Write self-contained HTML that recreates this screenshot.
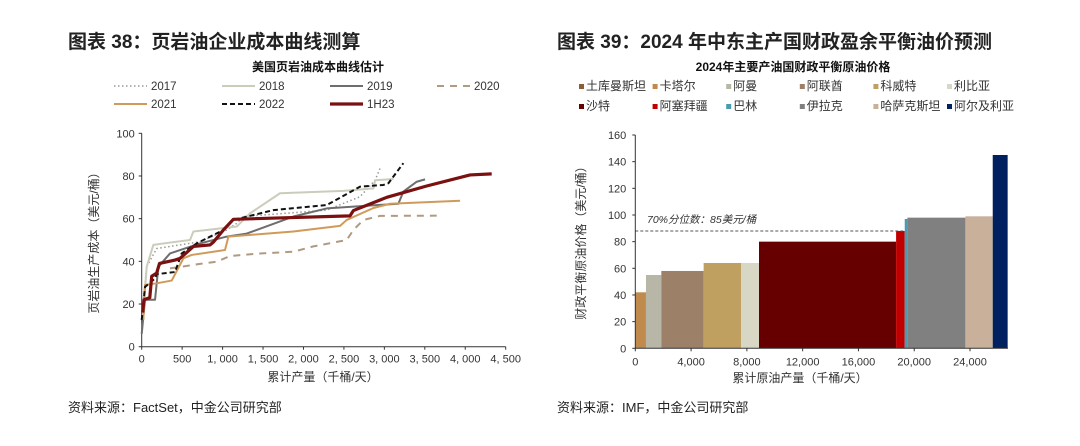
<!DOCTYPE html>
<html><head><meta charset="utf-8"><style>
body{margin:0;background:#fff;width:1080px;height:441px;overflow:hidden;font-family:"Liberation Sans","Noto Sans CJK SC",sans-serif;}
svg text{font-family:"Liberation Sans","Noto Sans CJK SC",sans-serif;}
</style></head><body>
<svg width="1080" height="441">
<text x="68" y="48" font-size="19" font-weight="bold" fill="#222">图表 38：页岩油企业成本曲线测算</text>
<text x="557" y="48" font-size="19" font-weight="bold" fill="#222">图表 39：2024 年中东主产国财政盈余平衡油价预测</text>
<text x="318" y="71" font-size="12" font-weight="bold" text-anchor="middle" fill="#111">美国页岩油成本曲线估计</text>
<text x="793" y="71" font-size="12" font-weight="bold" text-anchor="middle" fill="#111">2024年主要产油国财政平衡原油价格</text>
<text x="68" y="412" font-size="13" fill="#222">资料来源：FactSet，中金公司研究部</text>
<text x="557" y="412" font-size="13" fill="#222">资料来源：IMF，中金公司研究部</text>
<g id="left"></g>
<g id="right"></g>
</svg>
<script>
// ---- Left chart data ----
const leftYTicks=[0,20,40,60,80,100];
const leftXTicks=[0,500,1000,1500,2000,2500,3000,3500,4000,4500];
const leftXTickLabels=["0","500","1, 000","1, 500","2, 000","2, 500","3, 000","3, 500","4, 000","4, 500"];
const seriesNames=["2017","2018","2019","2020","2021","2022","1H23"];
const s2017x=[12,62,185,721,1051,1175,1257,2288,2700,2885,2947];
const s2017y=[19,37.5,46,49.2,54.7,57.8,61,64,70.3,78,83.6];
const s2018x=[12,62,144,350,598,639,804,1175,1339,1710,2493,2865,2885,3112];
const s2018y=[12.5,37.5,47.7,48.8,50,54,54.7,56.3,62.5,71.9,73,74.2,78,78.6];
const s2019x=[0,41,165,206,350,721,1051,1298,1875,2288,3173,3235,3400,3503];
const s2019y=[6,22,22,37.5,43.7,48.4,51.6,53,61,64.8,67,72.7,77.3,78.4];
const s2020x=[350,721,927,1092,1463,1875,2122,2535,2617,2741,2947,3647];
const s2020y=[36.7,38.8,39.8,42.5,43.7,44.5,47,50,54.7,59.4,61.3,61.4];
const s2021x=[20,41,185,371,515,618,1030,1072,1875,2452,2535,2865,3070,3936];
const s2021y=[12.5,29,29.7,31,41.4,43,45.3,51.6,54,56.6,59.4,65,67,68.4];
const s2022x=[0,41,165,185,412,494,680,1010,1133,1628,2288,2700,2988,3050,3235];
const s2022y=[12.5,28,32,34,35,43.7,48.4,54.7,59.4,64,66.4,75,75.8,76.6,86];
const s1H23x=[12,28,100,124,185,220,412,474,640,845,886,1010,1133,2575,2617,3030,3523,4060,4327];
const s1H23y=[16,22,23,33,34.5,39,40.6,41.4,47,47.7,49,54.7,59.7,61.3,63.8,70,75.3,80.5,81];
// ---- Right chart data ----
const countries=["卡塔尔","阿曼","阿联酋","科威特","利比亚","沙特","阿塞拜疆","巴林","伊拉克","哈萨克斯坦","阿尔及利亚"];
const barStart=[0,765,1865,4900,7580,8870,18700,19320,19510,23670,25630];
const barEnd=[765,1865,4900,7580,8870,18700,19320,19510,23670,25630,26700];
const barPrice=[42,55,58,64,64,80,88,97,98,99,145];
const rightYTicks=[0,20,40,60,80,100,120,140,160];
const rightXTicks=[0,4000,8000,12000,16000,20000,24000];
const rightXTickLabels=["0","4,000","8,000","12,000","16,000","20,000","24,000"];
const percentile70=88;

const NS="http://www.w3.org/2000/svg";
function mk(tag,attrs,parent,txt){const e=document.createElementNS(NS,tag);for(const k in attrs)e.setAttribute(k,attrs[k]);if(txt!==undefined)e.textContent=txt;parent.appendChild(e);return e;}

// Left
const L=document.getElementById('left');
const lx=v=>141.7+v*(505.7-141.7)/4500, ly=v=>346.7-v*(346.7-133.3)/100;
let e=mk('line',{x1:lx(0),y1:ly(0),x2:lx(0),y2:ly(100),stroke:'#333','stroke-width':1},L);

e=mk('line',{x1:lx(0),y1:ly(0),x2:lx(4500),y2:ly(0),stroke:'#333','stroke-width':1},L);

leftYTicks.forEach(t=>{mk('line',{x1:lx(0)-3,y1:ly(t),x2:lx(0),y2:ly(t),stroke:'#333'},L);
 e=mk('text',{x:lx(0)-7,y:ly(t)+4,'font-size':11,'text-anchor':'end',fill:'#333'},L,t);
 });
leftXTicks.forEach((t,i)=>{mk('line',{x1:lx(t),y1:ly(0),x2:lx(t),y2:ly(0)+3,stroke:'#333'},L);
 e=mk('text',{x:lx(t),y:ly(0)+16,'font-size':11,'text-anchor':'middle',fill:'#333'},L,leftXTickLabels[i]);
 });
e=mk('text',{x:323,y:381,'font-size':12,'text-anchor':'middle',fill:'#333'},L,'累计产量（千桶/天）');

e=mk('text',{x:0,y:0,'font-size':12,'text-anchor':'middle',fill:'#333',transform:'translate(98,240) rotate(-90)'},L,'页岩油生产成本（美元/桶）');

const styles=[{c:'#999',w:1.5,d:'1.5 2.5'},{c:'#ccccbb',w:2,d:''},{c:'#6e6e6e',w:2,d:''},{c:'#b09a82',w:2,d:'7 6'},{c:'#d09a5a',w:2,d:''},{c:'#111',w:2,d:'5 3'},{c:'#7a1010',w:3.2,d:''}];
const xs=[s2017x,s2018x,s2019x,s2020x,s2021x,s2022x,s1H23x], ys=[s2017y,s2018y,s2019y,s2020y,s2021y,s2022y,s1H23y];
xs.forEach((X,i)=>{const pts=X.map((v,j)=>lx(v)+','+ly(ys[i][j])).join(' ');
 e=mk('polyline',{points:pts,fill:'none',stroke:styles[i].c,'stroke-width':styles[i].w,'stroke-dasharray':styles[i].d,'stroke-linejoin':'round'},L);
 });
const legPos=[[114,86],[222,86],[330,86],[437,86],[114,104],[222,104],[330,104]];
seriesNames.forEach((n,i)=>{const [x,y]=legPos[i];
 e=mk('line',{x1:x,y1:y,x2:x+33,y2:y,stroke:styles[i].c,'stroke-width':styles[i].w,'stroke-dasharray':styles[i].d},L);
 
 e=mk('text',{x:x+37,y:y+4,'font-size':11.5,fill:'#333'},L,n);
 });

// Right
const R=document.getElementById('right');
const rx=v=>635.3+v*(970-635.3)/24000, ry=v=>348.3-v*(348.3-135)/160;
const colors=['#c08a4c','#b8b6a6','#9c8068','#c0a060','#d8d6c4','#660000','#c00000','#4a9ab0','#808080','#c8b09a','#002060'];
barPrice.forEach((p,i)=>{e=mk('rect',{x:rx(barStart[i]),y:ry(p),width:rx(barEnd[i])-rx(barStart[i]),height:ry(0)-ry(p),fill:colors[i]},R);
 });
e=mk('line',{x1:rx(0),y1:ry(percentile70),x2:rx(19320),y2:ry(percentile70),stroke:'#555','stroke-dasharray':'3 2','stroke-width':1},R);

e=mk('text',{x:647,y:223,'font-size':10.5,'font-style':'italic',fill:'#333'},R,'70%分位数：85美元/桶');

e=mk('line',{x1:rx(0),y1:ry(0),x2:rx(0),y2:ry(160),stroke:'#333'},R);

e=mk('line',{x1:rx(0),y1:ry(0),x2:1008,y2:ry(0),stroke:'#333'},R);

rightYTicks.forEach(t=>{mk('line',{x1:rx(0)-3,y1:ry(t),x2:rx(0),y2:ry(t),stroke:'#333'},R);
 e=mk('text',{x:rx(0)-9,y:ry(t)+4,'font-size':11,'text-anchor':'end',fill:'#333'},R,t);
 });
rightXTicks.forEach((t,i)=>{mk('line',{x1:rx(t),y1:ry(0),x2:rx(t),y2:ry(0)+3,stroke:'#333'},R);
 e=mk('text',{x:rx(t),y:ry(0)+17,'font-size':11,'text-anchor':'middle',fill:'#333'},R,rightXTickLabels[i]);
 });
e=mk('text',{x:800,y:382,'font-size':12,'text-anchor':'middle',fill:'#333'},R,'累计原油产量（千桶/天）');

e=mk('text',{x:0,y:0,'font-size':12,'text-anchor':'middle',fill:'#333',transform:'translate(585,240) rotate(-90)'},R,'财政平衡原油价格（美元/桶）');

const legNames=["土库曼斯坦","卡塔尔","阿曼","阿联酋","科威特","利比亚","沙特","阿塞拜疆","巴林","伊拉克","哈萨克斯坦","阿尔及利亚"];
const legColors=['#8b5e34','#c08a4c','#b8b6a6','#9c8068','#c0a060','#d8d6c4','#660000','#c00000','#4a9ab0','#808080','#c8b09a','#002060'];
legNames.forEach((n,i)=>{const x=579+(i%6)*73.6, y=i<6?89:109;
 e=mk('rect',{x:x,y:y-5,width:5,height:5,fill:legColors[i]},R);
 
 e=mk('text',{x:x+7,y:y+1,'font-size':12,fill:'#333'},R,n);
 });
</script>
</body></html>
